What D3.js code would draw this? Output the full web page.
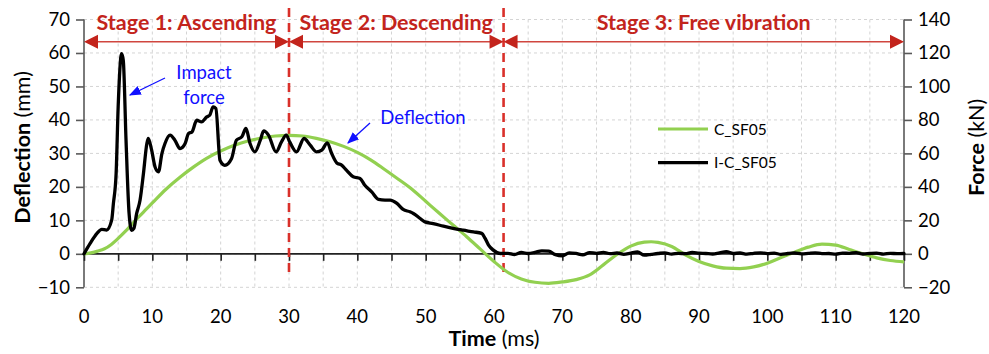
<!DOCTYPE html>
<html>
<head>
<meta charset="utf-8">
<script src="https://cdn.jsdelivr.net/npm/d3@7"></script>
<style>
  html, body { margin: 0; padding: 0; background: #fff; }
  svg { display: block; font-family: Lato, "Open Sans", sans-serif; }
</style>
</head>
<body>
<svg id="chart" width="989" height="354"></svg>
<script>
// Mid-span deflection (mm) of C_SF05, sampled in time (ms)
const deflTime = [0,1,2,3,4,5,6,7,8,9,10,12,14,16,18,20,22,24,26,28,30,32,34,36,38,40,42,44,46,48,50,52,54,56,58,60,62,64,66,68,70,72,74,76,78,80,82,83,84,86,88,90,92,94,96,98,100,102,104,106,108,110,112,114,116,118,120];
const deflValue = [0,0.3,0.8,1.5,2.8,4.6,6.6,8.8,11,13.1,15.2,19.3,22.8,25.9,28.6,30.7,32.4,33.7,34.6,35.2,35.4,35.2,34.5,33.5,32.1,30.3,28,25.2,22.3,19.3,15.7,12.1,8.6,5.1,1.4,-2.3,-5.5,-7.5,-8.5,-8.8,-8.4,-7.7,-6.3,-3.3,-0.2,2.3,3.5,3.6,3.4,2.2,-0.3,-2.3,-3.6,-4.3,-4.4,-3.9,-2.8,-1.1,0.5,2.0,2.9,2.6,1.3,0,-1.2,-2.0,-2.4];

// Impact force (kN) of I-C_SF05, sampled in time (ms)
const forceTime = [0,0.9,1.9,2.6,3.3,4.05,4.3,4.7,5.0,5.5,5.75,6.15,6.6,6.97,7.3,7.7,8.2,8.7,9.2,9.4,9.9,10.4,10.9,11.4,11.85,12.6,13.3,14.05,14.8,15.3,15.8,16.5,17.2,17.96,18.4,18.9,19.3,19.9,20.6,21.6,22.3,23.1,23.7,24.3,25.0,25.8,26.3,27.0,28.1,28.9,29.6,30.1,31.1,32.2,33.1,34.05,34.8,35.6,36.25,37.0,37.7,38.4,39.4,40.4,41.1,42.1,43.1,44.05,44.8,45.8,46.7,47.7,48.2,49.2,49.9,51.1,52.6,54.0,55.5,57.0,58.2,58.7,59.2,59.9,60.9,62,63,64,65,66,67,68,69,70,71,72,73,74,75,76,77,78,79,80,81,82,83,84,85,86,87,88,89,90,91,92,93,94,95,96,97,98,99,100,101,102,103,104,105,106,107,108,109,110,111,112,113,114,115,116,117,118,119,120];
const forceValue = [0,6.2,12.2,14.6,14.2,20.1,30,48,87.8,119.6,115.6,67.9,24,14.1,15.2,24,32,48,65.9,68.9,61.9,51.9,49,59.9,65.9,70.9,67.9,62.9,65.9,71.9,72.8,79.8,78.8,81.8,82.8,87.8,86.8,55.9,52.9,57,67.9,69.9,74.9,65.9,60.9,67.9,73.4,70.9,60.9,66.9,70.9,66.9,60.9,68.9,64.9,60.9,61.9,66.3,59.9,54.3,53,50,46,45,41,37,32.5,32.1,32.1,30.1,26.5,25.1,24.1,21.1,19.1,18.1,16.5,15.2,14.1,13.1,12.2,9.2,5.2,2.2,0.2,0.3,-0.4,0.8,0.2,0.9,1.8,1.6,-0.5,-1.2,0.6,0.2,-0.6,0.7,0.3,0.9,0.1,0.5,-0.3,0.4,1.1,-0.8,-0.3,0.2,0.6,-0.2,0.3,0.1,0.8,0.4,0.2,-0.1,0.6,1.3,0.2,0.5,-0.2,0.3,0.6,0.1,0.4,-0.3,0.2,0.5,0.0,0.3,0.6,0.1,0.2,-0.2,0.4,0.3,0.7,-0.1,0.2,0.4,-0.2,0.3,0.1,0.2];

// Axis ticks
const timeTicks = [0,10,20,30,40,50,60,70,80,90,100,110,120];
const timeMinorTicks = [0,5,10,15,20,25,30,35,40,45,50,55,60,65,70,75,80,85,90,95,100,105,110,115,120];
const deflTicks = [-10,0,10,20,30,40,50,60,70];
const forceTicks = [-20,0,20,40,60,80,100,120,140];

// Stage boundaries (ms) and names
const stageBounds = [0, 30, 61.4, 120];
const stageNames = ["Stage 1: Ascending", "Stage 2: Descending", "Stage 3: Free vibration"];

// Legend entries
const seriesNames = ["C_SF05", "I-C_SF05"];

const svg = d3.select("#chart");
const plotL = 84, plotR = 904, plotT = 19.5, plotB = 287.3;

const x = d3.scaleLinear().domain([0, 120]).range([plotL, plotR]);
const yL = d3.scaleLinear().domain([-10, 70]).range([plotB, plotT]);
const yR = d3.scaleLinear().domain([-20, 140]).range([plotB, plotT]);

const red = "#c3241c";
const green = "#92d050";
const blue = "#1010ff";

// Grid
const grid = svg.append("g").attr("stroke", "#d4d4d4").attr("stroke-width", 1).attr("stroke-dasharray", "3,3");
grid.selectAll("line.h").data(deflTicks).join("line")
  .attr("x1", plotL).attr("x2", plotR)
  .attr("y1", d => yL(d)).attr("y2", d => yL(d));
grid.selectAll("line.v").data(timeMinorTicks.filter(d => d > 0 && d < 120)).join("line")
  .attr("x1", d => x(d)).attr("x2", d => x(d))
  .attr("y1", plotT).attr("y2", plotB);

// Left axis
const gL = svg.append("g").attr("transform", `translate(${plotL},0)`)
  .call(d3.axisLeft(yL).tickValues(deflTicks).tickSize(8).tickPadding(6));
// Right axis
const gR = svg.append("g").attr("transform", `translate(${plotR},0)`)
  .call(d3.axisRight(yR).tickValues(forceTicks).tickSize(8).tickPadding(6));
[gL, gR].forEach(g => {
  g.select(".domain").attr("stroke", "#595959").attr("stroke-width", 1.6).attr("d", `M0,${plotT}V${plotB}`);
  g.selectAll(".tick line").attr("stroke", "#595959").attr("stroke-width", 1.6);
  g.selectAll(".tick text").attr("fill", "#000").style("font-size", "18.5px").style("font-family", "Lato, sans-serif");
});

// Time axis drawn along zero deflection, labels along the bottom
const gX = svg.append("g").attr("transform", `translate(0,${yL(0)})`)
  .call(d3.axisBottom(x).tickValues(timeMinorTicks).tickSize(7).tickFormat(""));
gX.select(".domain").attr("stroke", "#222").attr("stroke-width", 1.6).attr("d", `M${plotL},0H${plotR}`);
gX.selectAll(".tick line").attr("stroke", "#222").attr("stroke-width", 1.6);

svg.append("g").selectAll("text").data(timeTicks).join("text")
  .attr("x", d => x(d)).attr("y", 323)
  .attr("text-anchor", "middle")
  .style("font-size", "18.5px")
  .text(d => d);

// Stage boundary lines
svg.append("g").selectAll("line").data(stageBounds.slice(1, 3)).join("line")
  .attr("x1", d => x(d)).attr("x2", d => x(d))
  .attr("y1", 8).attr("y2", 273)
  .attr("stroke", "#d9302a").attr("stroke-width", 2.6).attr("stroke-dasharray", "9,6");

// Curves
const deflData = deflTime.map((t, i) => ({t, v: deflValue[i]}));
const forceData = forceTime.map((t, i) => ({t, v: forceValue[i]}));

svg.append("path").datum(deflData)
  .attr("fill", "none").attr("stroke", green).attr("stroke-width", 3.2)
  .attr("d", d3.line().x(d => x(d.t)).y(d => yL(d.v)).curve(d3.curveMonotoneX));

svg.append("path").datum(forceData)
  .attr("fill", "none").attr("stroke", "#000").attr("stroke-width", 3.3)
  .attr("stroke-linejoin", "round").attr("stroke-linecap", "round")
  .attr("d", d3.line().x(d => x(d.t)).y(d => yR(d.v)).curve(d3.curveMonotoneX));

// Stage arrows and titles
const arrowY = 41.7;
const stages = stageNames.map((name, i) => ({name, a: stageBounds[i], b: stageBounds[i + 1]}));
const sg = svg.append("g");
stages.forEach(s => {
  const xa = x(s.a), xb = x(s.b);
  sg.append("line").attr("x1", xa + 10).attr("x2", xb - 10)
    .attr("y1", arrowY).attr("y2", arrowY)
    .attr("stroke", "#d0463f").attr("stroke-width", 1.6);
  sg.append("path").attr("d", `M${xa},${arrowY}L${xa + 14},${arrowY - 7}L${xa + 14},${arrowY + 7}Z`).attr("fill", red);
  sg.append("path").attr("d", `M${xb},${arrowY}L${xb - 14},${arrowY - 7}L${xb - 14},${arrowY + 7}Z`).attr("fill", red);
  sg.append("text").attr("x", (xa + xb) / 2).attr("y", 29.5)
    .attr("text-anchor", "middle").attr("fill", red)
    .style("font-size", "21.5px").style("font-weight", "bold")
    .text(s.name);
});

// Axis titles
const yTitle = (xPos, bold, rest) => {
  const t = svg.append("text")
    .attr("transform", `translate(${xPos},${(plotT + plotB) / 2 - 6}) rotate(-90)`)
    .attr("text-anchor", "middle").style("font-size", "21.5px");
  t.append("tspan").style("font-weight", "bold").text(bold);
  t.append("tspan").text(rest);
};
yTitle(30, "Deflection", " (mm)");
yTitle(984, "Force", " (kN)");

const xt = svg.append("text").attr("x", x(60)).attr("y", 346)
  .attr("text-anchor", "middle").style("font-size", "21.5px");
xt.append("tspan").style("font-weight", "bold").text("Time");
xt.append("tspan").text(" (ms)");

// Legend
const legend = svg.append("g");
[green, "#000"].forEach((c, i) => {
  const ly = 129 + i * 33.7;
  legend.append("line").attr("x1", 658).attr("x2", 708).attr("y1", ly).attr("y2", ly)
    .attr("stroke", c).attr("stroke-width", 3.2);
  legend.append("text").attr("x", 714).attr("y", ly + 5.5)
    .style("font-size", "15.5px").text(seriesNames[i]);
});

// Annotations
const defs = svg.append("defs");
defs.append("marker").attr("id", "bluehead").attr("viewBox", "0 0 10 10")
  .attr("refX", 9).attr("refY", 5).attr("markerWidth", 12).attr("markerHeight", 12)
  .attr("orient", "auto").attr("markerUnits", "userSpaceOnUse")
  .append("path").attr("d", "M0,1L10,5L0,9Z").attr("fill", blue);

const ann = svg.append("g").attr("fill", blue).style("font-size", "18.5px");
ann.append("text").attr("x", 204).attr("y", 79).attr("text-anchor", "middle").text("Impact");
ann.append("text").attr("x", 204).attr("y", 104).attr("text-anchor", "middle").text("force");
ann.append("text").attr("x", 423).attr("y", 124).attr("text-anchor", "middle").text("Deflection");
svg.append("line").attr("x1", 165).attr("y1", 78).attr("x2", 130).attr("y2", 95)
  .attr("stroke", blue).attr("stroke-width", 1.3).attr("marker-end", "url(#bluehead)");
svg.append("line").attr("x1", 370).attr("y1", 123).attr("x2", 348).attr("y2", 143)
  .attr("stroke", blue).attr("stroke-width", 1.3).attr("marker-end", "url(#bluehead)");
</script>
</body>
</html>
